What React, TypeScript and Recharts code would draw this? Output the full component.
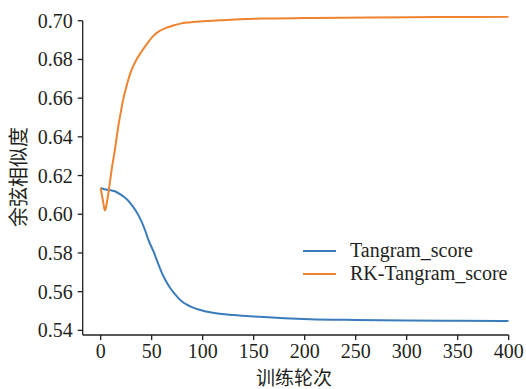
import React from 'react';
import { LineChart, Line, XAxis, YAxis, Label, ReferenceLine } from 'recharts';

const tangramEpochs = [0, 5, 10, 14, 19, 24, 29, 34, 39, 43, 47, 52, 56, 60, 64, 68, 72, 76, 80, 84, 90, 96, 110, 130, 156, 180, 205, 250, 300, 350, 400];
const tangramScores = [0.6136, 0.6128, 0.6124, 0.6119, 0.6104, 0.6085, 0.6058, 0.6022, 0.5975, 0.5925, 0.5865, 0.5805, 0.575, 0.5697, 0.5655, 0.562, 0.5592, 0.5568, 0.5548, 0.5534, 0.5519, 0.5508, 0.5491, 0.5479, 0.547, 0.5463, 0.5458, 0.5454, 0.5451, 0.5449, 0.5448];

const rkEpochs = [0, 1, 2, 3, 4, 5, 6, 7, 8, 9, 11, 14, 17, 20, 22, 25, 27, 31, 35, 40, 45, 51, 57, 64, 72, 78, 86, 94, 117, 137, 157, 200, 264, 330, 400];
const rkScores = [0.6136, 0.6106, 0.6077, 0.6047, 0.602, 0.603, 0.6058, 0.609, 0.6125, 0.6163, 0.6238, 0.6334, 0.6445, 0.6535, 0.659, 0.6655, 0.6694, 0.6755, 0.6798, 0.684, 0.6878, 0.6918, 0.6945, 0.6963, 0.6977, 0.6985, 0.6991, 0.6995, 0.7002, 0.7008, 0.7011, 0.7014, 0.7017, 0.7019, 0.702];

const xTicks = [0, 50, 100, 150, 200, 250, 300, 350, 400];
const yTicks = [0.54, 0.56, 0.58, 0.6, 0.62, 0.64, 0.66, 0.68, 0.7];

const seriesNames = ['Tangram_score', 'RK-Tangram_score'];
const colors = ['#3a7bbb', '#f0832f'];

const tangramData = tangramEpochs.map((e, i) => ({ epoch: e, value: tangramScores[i] }));
const rkData = rkEpochs.map((e, i) => ({ epoch: e, value: rkScores[i] }));

const X_MIN = -17.6;
const Y_MIN = 0.5376;
const Y_MAX = 0.7025;

const FONT = "'Liberation Serif', 'Times New Roman', serif";
const CJK = "'Noto Sans CJK SC', sans-serif";
const INK = '#231f20';

const XTick = (props: any) => {
  const { x, y, payload } = props;
  return (
    <text x={x} y={y} dy={15} textAnchor="middle" style={{ fontFamily: FONT, fontSize: 20, fill: INK }}>
      {payload.value}
    </text>
  );
};

const YTick = (props: any) => {
  const { x, y, payload } = props;
  return (
    <text x={x} y={y} dy={7} textAnchor="end" style={{ fontFamily: FONT, fontSize: 20, fill: INK }}>
      {Number(payload.value).toFixed(2)}
    </text>
  );
};

const LegendBox = () => (
  <div
    style={{
      position: 'absolute',
      left: 303,
      top: 239,
      fontFamily: FONT,
      fontSize: 20,
      color: INK,
      lineHeight: '23px',
    }}
  >
    {seriesNames.map((n, i) => (
      <div key={n} style={{ display: 'flex', alignItems: 'center', height: 23, whiteSpace: 'nowrap' }}>
        <div style={{ width: 33, height: 2, background: colors[i], marginRight: 14 }} />
        <span>{n}</span>
      </div>
    ))}
  </div>
);

export default function App() {
  return (
    <div style={{ position: 'fixed', left: 0, top: 0, width: 526, height: 389, background: '#fff' }}>
      <LineChart width={526} height={389} margin={{ top: 15.9, right: 17.3, bottom: 24, left: 22.7 }}>
        <XAxis
          type="number"
          dataKey="epoch"
          domain={[X_MIN, 400]}
          ticks={xTicks}
          allowDataOverflow
          height={30}
          tickSize={5}
          tickMargin={3}
          stroke={INK}
          strokeWidth={1.3}
          tick={<XTick />}
        >
          <Label
            content={() => (
              <text x={294} y={376} textAnchor="middle" dominantBaseline="central" style={{ fontFamily: CJK, fontSize: 19, fill: INK }}>
                训练轮次
              </text>
            )}
          />
        </XAxis>
        <YAxis
          type="number"
          domain={[Y_MIN, Y_MAX]}
          ticks={yTicks}
          allowDataOverflow
          width={60}
          tickSize={5}
          tickMargin={5}
          axisLine={false}
          stroke={INK}
          strokeWidth={1.3}
          tick={<YTick />}
        >
          <Label
            content={() => (
              <text
                x={17}
                y={177}
                textAnchor="middle"
                dominantBaseline="central"
                style={{ fontFamily: CJK, fontSize: 20, fill: INK }}
                transform="rotate(-90 17 177)"
              >
                余弦相似度
              </text>
            )}
          />
        </YAxis>
        <ReferenceLine
          segment={[{ x: X_MIN, y: Y_MIN }, { x: X_MIN, y: 0.7 }]}
          stroke={INK}
          strokeWidth={1.3}
        />
        <Line
          data={tangramData}
          dataKey="value"
          name={seriesNames[0]}
          stroke={colors[0]}
          strokeWidth={2}
          dot={false}
          type="monotone"
          isAnimationActive={false}
        />
        <Line
          data={rkData}
          dataKey="value"
          name={seriesNames[1]}
          stroke={colors[1]}
          strokeWidth={2}
          dot={false}
          type="monotone"
          isAnimationActive={false}
        />
      </LineChart>
      <LegendBox />
    </div>
  );
}
